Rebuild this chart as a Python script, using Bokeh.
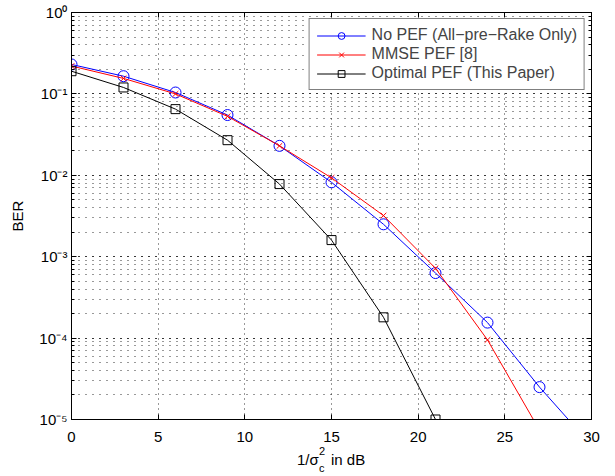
from bokeh.plotting import figure
from bokeh.layouts import column
from bokeh.models import (LogAxis, LinearAxis, Legend, LegendItem, Div,
                          FixedTicker, LogTicker, Range1d, CustomJSTickFormatter)
from bokeh.embed import file_html
from bokeh.resources import INLINE

snr_db = [0, 3, 6, 9, 12, 15, 18, 21, 24, 27, 30]
ber_no_pef = [0.23, 0.165, 0.104, 0.055, 0.023, 0.0082, 0.0025, 0.00063, 0.000155, 0.000025, 0.0000048]
snr_mmse = [0, 3, 6, 9, 12, 15, 18, 21, 24, 27]
ber_mmse = [0.22, 0.155, 0.1, 0.053, 0.023, 0.0093, 0.0032, 0.00072, 0.000095, 0.0000074]
snr_opt = [0, 3, 6, 9, 12, 15, 18, 21]
ber_opt = [0.19, 0.12, 0.065, 0.027, 0.0078, 0.0016, 0.00018, 0.00001]

x_ticks = [0, 5, 10, 15, 20, 25, 30]
y_ticks = [1e-5, 1e-4, 1e-3, 1e-2, 1e-1, 1]
y_tick_labels = ["10⁻⁵", "10⁻⁴", "10⁻³", "10⁻²", "10⁻¹", "10⁰"]
series_names = ["No PEF (All\u2212pre\u2212Rake Only)", "MMSE PEF [8]", "Optimal PEF (This Paper)"]
x_label_parts = ["1/σ", "2", "c", "in dB"]

FONT = "Liberation Sans"

p = figure(width=615, height=448, y_axis_type="log",
           x_range=Range1d(0, 30), y_range=Range1d(1e-5, 1),
           output_backend="svg", toolbar_location=None,
           min_border_left=71, min_border_right=24, min_border_top=12, min_border_bottom=29)
p.outline_line_color = "black"
p.outline_line_width = 1

# axes
p.xaxis.ticker = FixedTicker(ticks=x_ticks)
p.yaxis.ticker = LogTicker(num_minor_ticks=10)
p.yaxis.major_label_overrides = {v: s for v, s in zip(y_ticks, y_tick_labels)}
for ax in [p.xaxis[0], p.yaxis[0]]:
    ax.major_tick_in = 5
    ax.major_tick_out = 0
    ax.minor_tick_in = 3
    ax.minor_tick_out = 0
    ax.axis_line_color = "black"
    ax.major_label_text_font = FONT
    ax.major_label_text_font_size = "15px"
    ax.major_label_text_color = "black"
p.xaxis.minor_tick_line_color = None
p.xaxis.major_label_standoff = 12
p.yaxis.major_label_standoff = 4
p.yaxis.axis_label = "BER"
p.yaxis.axis_label_text_font = FONT
p.yaxis.axis_label_text_font_size = "15px"
p.yaxis.axis_label_text_font_style = "normal"
p.yaxis.axis_label_text_color = "black"
p.yaxis.axis_label_standoff = 10

right = LogAxis(ticker=LogTicker(num_minor_ticks=10), formatter=CustomJSTickFormatter(code="return ''"),
                major_tick_in=5, major_tick_out=0, minor_tick_in=3, minor_tick_out=0,
                major_label_standoff=0)
p.add_layout(right, "right")
top = LinearAxis(ticker=FixedTicker(ticks=x_ticks), formatter=CustomJSTickFormatter(code="return ''"),
                 major_tick_in=5, major_tick_out=0, minor_tick_line_color=None,
                 major_label_standoff=0)
p.add_layout(top, "above")

# grid
p.xgrid.ticker = FixedTicker(ticks=x_ticks)
p.xgrid.grid_line_color = "black"
p.xgrid.grid_line_dash = "1 4"
p.xgrid.grid_line_alpha = 0.8
p.ygrid.grid_line_color = "black"
p.ygrid.grid_line_dash = "1 6"
p.ygrid.grid_line_alpha = 0.8
p.ygrid.minor_grid_line_color = "black"
p.ygrid.minor_grid_line_dash = "1 6"
p.ygrid.minor_grid_line_alpha = 0.8

# data
l1 = p.line(snr_db, ber_no_pef, color="#0000ff", line_width=1)
m1 = p.scatter(snr_db, ber_no_pef, marker="circle", size=11, line_color="#0000ff",
               fill_color=None, line_width=1)
l2 = p.line(snr_mmse, ber_mmse, color="#ff0000", line_width=1)
m2 = p.scatter(snr_mmse, ber_mmse, marker="x", size=8, line_color="#ff0000", line_width=1)
l3 = p.line(snr_opt, ber_opt, color="black", line_width=1)
m3 = p.scatter(snr_opt, ber_opt, marker="square", size=9, line_color="black",
               fill_color=None, line_width=1)

legend = Legend(items=[LegendItem(label=series_names[0], renderers=[l1, m1]),
                       LegendItem(label=series_names[1], renderers=[l2, m2]),
                       LegendItem(label=series_names[2], renderers=[l3, m3])],
                location="top_right", margin=6, padding=7, spacing=1,
                glyph_width=49, glyph_height=17, label_height=17,
                label_text_font=FONT, label_text_font_size="16px",
                border_line_color="black", border_line_width=1,
                background_fill_color="white", background_fill_alpha=1,
                label_standoff=6)
p.add_layout(legend, "center")

# x-axis label with stacked sub/superscript, as HTML text below the plot
span = "position:absolute; white-space:nowrap; line-height:1; color:black;"
html = (
    f'<div style="position:relative; width:615px; height:28px; font-family:\'{FONT}\';">'
    f'<span style="{span} left:297px; top:4px; font-size:15px;">{x_label_parts[0]}</span>'
    f'<span style="{span} left:319px; top:-2px; font-size:11px;">{x_label_parts[1]}</span>'
    f'<span style="{span} left:319px; top:15px; font-size:11px;">{x_label_parts[2]}</span>'
    f'<span style="{span} left:331px; top:4px; font-size:15px;">{x_label_parts[3]}</span>'
    '</div>'
)
xlabel = Div(text=html, width=615, height=28, margin=0, styles={"overflow": "visible"})

layout = column(p, xlabel, spacing=0)
open("out.html", "w").write(file_html(layout, INLINE))
